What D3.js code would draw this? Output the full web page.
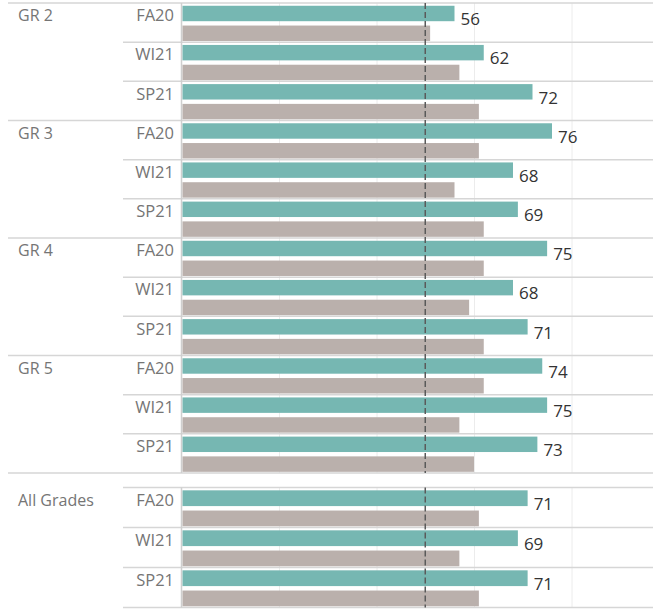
<!DOCTYPE html>
<html>
<head>
<meta charset="utf-8">
<script src="https://cdn.jsdelivr.net/npm/d3@7"></script>
<style>
  body { margin: 0; background: #fff; }
  text { font-family: "Open Sans", sans-serif; }
</style>
</head>
<body>
<div id="chart"></div>
<script>
// data
var groups = ["GR 2", "GR 3", "GR 4", "GR 5", "All Grades"];
var terms = ["FA20", "WI21", "SP21"];
var currentValues = [56, 62, 72, 76, 68, 69, 75, 68, 71, 74, 75, 73, 71, 69, 71];
var compareValues = [51, 57, 61, 61, 56, 62, 62, 59, 62, 62, 57, 60, 61, 57, 61];
var gridTicks = [20, 40, 60, 80];
var refValue = 50;

var width = 653, height = 609;
var teal = "#76b7b2", grey = "#bab0ac", lineCol = "#d6d6d6";

// build rows
var rows = [];
groups.forEach(function(g, gi) {
  terms.forEach(function(t, ti) {
    var i = gi * terms.length + ti;
    rows.push({ key: g + "|" + t, group: g, term: t, first: ti === 0,
                cur: currentValues[i], cmp: compareValues[i], all: g === "All Grades" });
  });
});

var svg = d3.select("#chart")
  .append("svg")
    .attr("width", width)
    .attr("height", height);

var x = d3.scaleLinear()
    .domain([0, 100])
    .range([181.5, 669]);

// two sections: the grades and the all grades total
var sections = [
  { rows: rows.filter(function(d) { return !d.all; }), range: [3, 473] },
  { rows: rows.filter(function(d) { return d.all; }), range: [487.5, 607.5] }
];

sections.forEach(function(sec) {
  var y = d3.scaleBand()
      .domain(sec.rows.map(function(d) { return d.key; }))
      .range(sec.range);

  var inner = d3.scaleBand()
      .domain(["cur", "cmp"])
      .range([0, y.bandwidth()])
      .paddingInner(0.22)
      .paddingOuter(0.1)
      .align(0.7);

  var g = svg.append("g");

  // faint gridlines
  g.append("g")
      .attr("transform", "translate(0," + sec.range[0] + ")")
      .call(d3.axisBottom(x).tickValues(gridTicks).tickSize(sec.range[1] - sec.range[0]).tickFormat(""))
      .call(function(a) { a.select(".domain").remove(); })
      .selectAll("line")
        .attr("stroke", "#ececec")
        .attr("stroke-width", 1);

  // row separators
  g.selectAll(".sep")
    .data(sec.rows)
    .enter()
    .append("line")
      .attr("x1", function(d) { return d.first && !d.all ? 8 : 123; })
      .attr("x2", width)
      .attr("y1", function(d) { return y(d.key); })
      .attr("y2", function(d) { return y(d.key); })
      .attr("stroke", lineCol)
      .attr("stroke-width", 1.5);

  var last = sec.rows[sec.rows.length - 1];
  g.append("line")
      .attr("x1", last.all ? 123 : 8)
      .attr("x2", width)
      .attr("y1", y(last.key) + y.bandwidth())
      .attr("y2", y(last.key) + y.bandwidth())
      .attr("stroke", lineCol)
      .attr("stroke-width", 1.5);

  // axis line
  g.append("line")
      .attr("x1", x(0)).attr("x2", x(0))
      .attr("y1", sec.range[0]).attr("y2", sec.range[1])
      .attr("stroke", "#cfcfcf")
      .attr("stroke-width", 1.5);

  // bars
  g.selectAll(".cur")
    .data(sec.rows)
    .enter()
    .append("rect")
      .attr("x", x(0) + 1)
      .attr("y", function(d) { return y(d.key) + inner("cur"); })
      .attr("width", function(d) { return x(d.cur) - x(0) - 1; })
      .attr("height", inner.bandwidth())
      .attr("fill", teal);

  g.selectAll(".cmp")
    .data(sec.rows)
    .enter()
    .append("rect")
      .attr("x", x(0) + 1)
      .attr("y", function(d) { return y(d.key) + inner("cmp"); })
      .attr("width", function(d) { return x(d.cmp) - x(0) - 1; })
      .attr("height", inner.bandwidth())
      .attr("fill", grey);

  // value labels
  g.selectAll(".val")
    .data(sec.rows)
    .enter()
    .append("text")
      .attr("x", function(d) { return x(d.cur) + 6; })
      .attr("y", function(d) { return y(d.key) + inner("cur") + inner.bandwidth() + 4; })
      .attr("font-size", 17)
      .attr("fill", "#333")
      .text(function(d) { return d.cur; });

  // term labels
  g.selectAll(".term")
    .data(sec.rows)
    .enter()
    .append("text")
      .attr("x", 174)
      .attr("y", function(d) { return y(d.key) + inner("cur") + inner.bandwidth(); })
      .attr("text-anchor", "end")
      .attr("font-size", 16.5)
      .attr("fill", "#757575")
      .text(function(d) { return d.term; });

  // group labels
  g.selectAll(".grp")
    .data(sec.rows.filter(function(d) { return d.first; }))
    .enter()
    .append("text")
      .attr("x", 18)
      .attr("y", function(d) { return y(d.key) + inner("cur") + inner.bandwidth(); })
      .attr("font-size", 16)
      .attr("fill", "#757575")
      .text(function(d) { return d.group; });

  // reference line
  g.append("line")
      .attr("x1", x(refValue)).attr("x2", x(refValue))
      .attr("y1", sec.range[0]).attr("y2", sec.range[1])
      .attr("stroke", "#5a5a5a")
      .attr("stroke-width", 1.5)
      .attr("stroke-dasharray", "6,3");
});
</script>
</body>
</html>
